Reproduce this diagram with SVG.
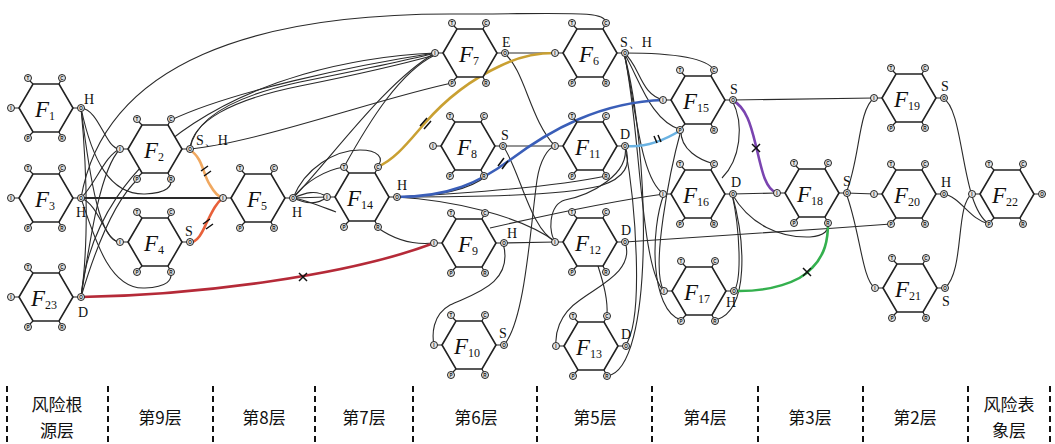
<svg xmlns="http://www.w3.org/2000/svg" xmlns:xlink="http://www.w3.org/1999/xlink" width="1055" height="444" viewBox="0 0 1055 444">
<style>
  .hex{fill:#fff;stroke:#222;stroke-width:1.6}
  .stub{stroke:#222;stroke-width:1.2}
  .port{fill:#e4e4e4;stroke:#222;stroke-width:1}
  .pl{font-family:"Liberation Sans",Arial,sans-serif;font-size:4.6px;font-weight:bold;fill:#111;text-anchor:middle}
  .fn{font-family:"Liberation Serif","Times New Roman",serif;font-style:italic;font-size:23px;fill:#111}
  .sub{font-family:"Liberation Serif","Times New Roman",serif;font-style:normal;font-size:12px}
  .tag{font-family:"Liberation Serif","Times New Roman",serif;font-size:14px;fill:#111}
  .ln{fill:none;stroke:#2a2a2a;stroke-width:1.1}
  .thick{stroke-width:1.9}
  .c{fill:none;stroke-width:2.6;stroke-linecap:round}
  .mk{stroke:#111;stroke-width:1.5;fill:none}
  .sep{stroke:#111;stroke-width:2;stroke-dasharray:6 4}
  .lay{font-family:"Noto Sans CJK SC","Noto Sans",sans-serif;font-size:17px;fill:#111;text-anchor:middle}
</style>
<defs>
  <g id="hx">
    <polygon class="hex" points="-27,0 -13,-24 13,-24 27,0 13,24 -13,24"/>
    <path class="stub" d="M-13,-24 L-17,-28 M13,-24 L15,-28 M-27,0 L-32,0 M27,0 L32,0 M-13,24 L-17,28 M13,24 L15,28"/>
    <circle class="port" cx="-18" cy="-30" r="3.5"/><text class="pl" x="-18" y="-28.3">T</text>
    <circle class="port" cx="16" cy="-30" r="3.5"/><text class="pl" x="16" y="-28.3">C</text>
    <circle class="port" cx="-35" cy="0" r="3.5"/><text class="pl" x="-35" y="1.7">I</text>
    <circle class="port" cx="35" cy="0" r="3.5"/><text class="pl" x="35" y="1.7">O</text>
    <circle class="port" cx="-18" cy="30" r="3.5"/><text class="pl" x="-18" y="31.7">P</text>
    <circle class="port" cx="16" cy="30" r="3.5"/><text class="pl" x="16" y="31.7">R</text>
  </g>
</defs>
<rect width="1055" height="444" fill="#fff"/>

<!-- connectors -->
<g id="connectors">
  <!-- root layer fan-out -->
  <path class="ln" d="M81,108 C100,110 105,149 120,149"/>
  <path class="ln" d="M81,108 C92,160 110,195 145,194 C168,193 172,186 171,179"/>
  <path class="ln" d="M81,108 C90,180 100,242 120,242"/>
  <path class="ln" d="M81,108 C88,180 88,250 81,297"/>
  <path class="ln" d="M81,198 C95,185 105,155 120,149"/>
  <path class="ln" d="M81,198 C100,205 105,242 120,242"/>
  <path class="ln" d="M81,198 C95,240 110,290 145,288 C168,287 172,280 171,272"/>
  <path class="ln thick" d="M81,198 L223,198"/>
  <path class="ln" d="M81,297 C90,240 100,170 120,149"/>
  <path class="ln" d="M81,297 C95,250 115,200 138,179"/>
  <path class="ln" d="M81,297 C95,150 250,62 435,53"/>
  <path class="ln" d="M81,198 C105,60 260,14 450,14 C570,14 606,10 606,23"/>
  <!-- layer 9 to layer 6 -->
  <path class="ln" d="M171,120 C230,92 350,66 435,53"/>
  <path class="ln" d="M190,149 C195,118 235,96 300,82 C360,70 410,60 435,53"/>
  <path class="ln" d="M190,149 C192,122 230,100 300,86 C360,74 410,62 435,55"/>
  <path class="ln" d="M190,149 C260,142 380,98 452,83"/>
  <!-- layer 8 -->
  <path class="ln" d="M293,198 C330,160 385,82 435,53"/>
  <path class="ln" d="M344,167 C370,120 400,72 435,55"/>
  <path class="ln" d="M293,198 L327,197"/>
  <path class="ln" d="M293,198 C305,193 316,189 327,197"/>
  <path class="ln" d="M293,198 C305,203 316,206 327,197"/>
  <path class="ln" d="M293,198 C306,200 320,206 336,212"/>
  <path class="ln" d="M293,198 C305,168 335,150 360,150 C378,150 385,158 377,167"/>
  <path class="ln" d="M293,198 C305,182 325,170 344,167"/>
  <!-- layer 7 -->
  <path class="ln" d="M378,228 C395,240 415,245 434,243"/>
  <path class="ln" d="M396,197 C450,200 520,215 556,242"/>
  <path class="ln" d="M396,197 C440,196 470,190 486,176"/>
  <path class="ln" d="M396,197 C470,193 560,186 606,176"/>
  <path class="ln" d="M396,197 C470,197 560,196 600,186 C625,178 632,165 625,146"/>
  <!-- layer 6 -->
  <path class="ln" d="M504,53 L555,53"/>
  <path class="ln" d="M504,53 C525,70 530,120 555,146"/>
  <path class="ln" d="M503,146 L555,146"/>
  <path class="ln" d="M503,146 C520,170 530,230 556,242"/>
  <path class="ln" d="M503,243 L556,242"/>
  <path class="ln" d="M490,228 C560,212 620,200 664,194"/>
  <path class="ln" d="M503,243 C515,285 470,295 450,305 C432,315 432,335 434,345"/>
  <path class="ln" d="M504,345 C525,320 530,230 537,180 C540,160 548,148 555,146"/>
  <!-- layer 5 -->
  <path class="ln" d="M625,146 C630,175 590,195 565,200 C548,205 548,235 556,242"/>
  <path class="ln" d="M625,242 C645,241 780,232 891,224"/>
  <path class="ln" d="M625,242 C635,270 600,285 580,300 C558,315 555,335 556,346"/>
  <path class="ln" d="M598,266 C604,285 608,300 607,316"/>
  <path class="ln" d="M625,146 C635,200 645,320 625,346"/>
  <path class="ln" d="M624,53 C650,150 655,370 607,376"/>
  <path class="ln" d="M624,53 C660,53 705,55 714,70"/>
  <path class="ln" d="M624,53 C640,65 640,95 664,100"/>
  <path class="ln" d="M624,53 C640,80 650,120 681,130"/>
  <path class="ln" d="M624,53 C635,100 640,180 664,194"/>
  <path class="ln" d="M624,53 C640,120 640,270 664,291"/>
  <!-- layer 4 -->
  <path class="ln" d="M732,100 L874,98"/>
  <path class="ln" d="M732,100 C745,125 740,160 722,178"/>
  <path class="ln" d="M681,130 C680,150 700,160 714,164"/>
  <path class="ln" d="M681,130 C670,170 650,270 664,291"/>
  <path class="ln" d="M664,194 C650,230 650,310 681,320"/>
  <path class="ln" d="M732,194 L777,193"/>
  <path class="ln" d="M732,194 C750,225 780,238 810,237 C825,236 829,230 828,223"/>
  <path class="ln" d="M732,194 C740,230 742,280 734,291"/>
  <path class="ln" d="M732,194 C745,240 750,310 716,320"/>
  <!-- layer 3 to surface -->
  <path class="ln" d="M846,193 L875,194"/>
  <path class="ln" d="M846,193 C860,160 858,110 874,98"/>
  <path class="ln" d="M846,193 C860,230 862,280 875,288"/>
  <path class="ln" d="M943,98 C965,110 960,205 989,224"/>
  <path class="ln" d="M943,194 C960,196 970,220 989,224"/>
  <path class="ln" d="M945,288 C965,270 955,205 972,194"/>

  <!-- highlighted paths -->
  <path class="c" stroke="#f0a860" d="M190,150 C203,158 203,175 210,185 C214,192 218,197 223,198"/>
  <path class="c" stroke="#e8603a" d="M190,243 C200,240 203,230 207,222 C212,212 216,203 223,198"/>
  <path class="c" stroke="#b52a38" d="M81,297 C200,295 350,275 434,243"/>
  <path class="c" stroke="#c9a032" d="M377,167 C395,160 410,140 425,123 C445,100 470,80 500,66 C520,56 540,53 555,53"/>
  <path class="c" stroke="#3a5eb8" d="M396,197 C450,197 480,182 510,160 C550,130 600,102 664,100"/>
  <path class="c" stroke="#6ab2e2" d="M625,146 C645,148 665,140 681,130"/>
  <path class="c" stroke="#7a44b0" d="M732,100 C748,108 752,130 757,150 C762,172 766,190 777,193"/>
  <path class="c" stroke="#34b04e" d="M734,291 C770,292 800,282 812,268 C825,255 828,240 828,223"/>

  <!-- break marks -->
  <path class="mk" d="M201,171 L208,166 M204,176 L211,171"/>
  <path class="mk" d="M203,224 L210,219 M206,229 L213,224"/>
  <path class="mk" d="M420,126 L427,118 M424,129 L431,121"/>
  <path class="mk" d="M498,166 L504,158 M502,169 L508,161"/>
  <path class="mk" d="M654,136 L657,143 M658,135 L661,142"/>
  <path class="mk" d="M299,273 L307,281 M307,273 L299,281"/>
  <path class="mk" d="M752,144 L760,152 M760,144 L752,152"/>
  <path class="mk" d="M803,268 L811,276 M811,268 L803,276"/>
</g>

<!-- nodes -->
<g id="F1" transform="translate(46,108)"><use href="#hx"/><text class="fn" x="-11" y="9">F<tspan class="sub" dy="3">1</tspan></text><text class="tag" x="38" y="-4">H</text></g>
<g id="F3" transform="translate(46,198)"><use href="#hx"/><text class="fn" x="-11" y="9">F<tspan class="sub" dy="3">3</tspan></text><text class="tag" x="30" y="19">H</text></g>
<g id="F23" transform="translate(46,297)"><use href="#hx"/><text class="fn" x="-15" y="9">F<tspan class="sub" dy="3">23</tspan></text><text class="tag" x="32" y="20">D</text></g>
<g id="F2" transform="translate(155,149)"><use href="#hx"/><text class="fn" x="-11" y="9">F<tspan class="sub" dy="3">2</tspan></text><text class="tag" x="41" y="-4">S、H</text></g>
<g id="F4" transform="translate(155,242)"><use href="#hx"/><text class="fn" x="-11" y="9">F<tspan class="sub" dy="3">4</tspan></text><text class="tag" x="30" y="-6">S</text></g>
<g id="F5" transform="translate(258,198)"><use href="#hx"/><text class="fn" x="-11" y="9">F<tspan class="sub" dy="3">5</tspan></text><text class="tag" x="34" y="19">H</text></g>
<g id="F14" transform="translate(362,197)"><use href="#hx"/><text class="fn" x="-15" y="9">F<tspan class="sub" dy="3">14</tspan></text><text class="tag" x="35" y="-7">H</text></g>
<g id="F7" transform="translate(470,53)"><use href="#hx"/><text class="fn" x="-11" y="9">F<tspan class="sub" dy="3">7</tspan></text><text class="tag" x="32" y="-6">E</text></g>
<g id="F8" transform="translate(468,146)"><use href="#hx"/><text class="fn" x="-11" y="9">F<tspan class="sub" dy="3">8</tspan></text><text class="tag" x="33" y="-6">S</text></g>
<g id="F9" transform="translate(469,243)"><use href="#hx"/><text class="fn" x="-11" y="9">F<tspan class="sub" dy="3">9</tspan></text><text class="tag" x="38" y="-5">H</text></g>
<g id="F10" transform="translate(469,345)"><use href="#hx"/><text class="fn" x="-15" y="9">F<tspan class="sub" dy="3">10</tspan></text><text class="tag" x="30" y="-7">S</text></g>
<g id="F6" transform="translate(590,53)"><use href="#hx"/><text class="fn" x="-11" y="9">F<tspan class="sub" dy="3">6</tspan></text><text class="tag" x="30" y="-6">S、H</text></g>
<g id="F11" transform="translate(590,146)"><use href="#hx"/><text class="fn" x="-15" y="9">F<tspan class="sub" dy="3">11</tspan></text><text class="tag" x="30" y="-7">D</text></g>
<g id="F12" transform="translate(590,242)"><use href="#hx"/><text class="fn" x="-15" y="9">F<tspan class="sub" dy="3">12</tspan></text><text class="tag" x="31" y="-7">D</text></g>
<g id="F13" transform="translate(591,346)"><use href="#hx"/><text class="fn" x="-15" y="9">F<tspan class="sub" dy="3">13</tspan></text><text class="tag" x="30" y="-7">D</text></g>
<g id="F15" transform="translate(698,100)"><use href="#hx"/><text class="fn" x="-15" y="9">F<tspan class="sub" dy="3">15</tspan></text><text class="tag" x="32" y="-6">S</text></g>
<g id="F16" transform="translate(698,194)"><use href="#hx"/><text class="fn" x="-15" y="9">F<tspan class="sub" dy="3">16</tspan></text><text class="tag" x="33" y="-7">D</text></g>
<g id="F17" transform="translate(699,291)"><use href="#hx"/><text class="fn" x="-15" y="9">F<tspan class="sub" dy="3">17</tspan></text><text class="tag" x="27" y="16">H</text></g>
<g id="F18" transform="translate(812,193)"><use href="#hx"/><text class="fn" x="-15" y="9">F<tspan class="sub" dy="3">18</tspan></text><text class="tag" x="31" y="-7">S</text></g>
<g id="F19" transform="translate(909,98)"><use href="#hx"/><text class="fn" x="-15" y="9">F<tspan class="sub" dy="3">19</tspan></text><text class="tag" x="32" y="-7">S</text></g>
<g id="F20" transform="translate(909,194)"><use href="#hx"/><text class="fn" x="-15" y="9">F<tspan class="sub" dy="3">20</tspan></text><text class="tag" x="32" y="-7">H</text></g>
<g id="F21" transform="translate(910,288)"><use href="#hx"/><text class="fn" x="-15" y="9">F<tspan class="sub" dy="3">21</tspan></text><text class="tag" x="32" y="18">S</text></g>
<g id="F22" transform="translate(1007,194)"><use href="#hx"/><text class="fn" x="-15" y="9">F<tspan class="sub" dy="3">22</tspan></text></g>

<!-- layer scale -->
<g id="layers">
  <line class="sep" x1="7" y1="386" x2="7" y2="444"/>
  <line class="sep" x1="108" y1="386" x2="108" y2="444"/>
  <line class="sep" x1="213" y1="386" x2="213" y2="444"/>
  <line class="sep" x1="315" y1="386" x2="315" y2="444"/>
  <line class="sep" x1="413" y1="386" x2="413" y2="444"/>
  <line class="sep" x1="537" y1="386" x2="537" y2="444"/>
  <line class="sep" x1="652" y1="386" x2="652" y2="444"/>
  <line class="sep" x1="758" y1="386" x2="758" y2="444"/>
  <line class="sep" x1="863" y1="386" x2="863" y2="444"/>
  <line class="sep" x1="968" y1="386" x2="968" y2="444"/>
  <line class="sep" x1="1050" y1="386" x2="1050" y2="444"/>
  <text class="lay" x="57" y="411">风险根</text>
  <text class="lay" x="57" y="437">源层</text>
  <text class="lay" x="160" y="424">第9层</text>
  <text class="lay" x="264" y="424">第8层</text>
  <text class="lay" x="364" y="424">第7层</text>
  <text class="lay" x="476" y="424">第6层</text>
  <text class="lay" x="595" y="424">第5层</text>
  <text class="lay" x="705" y="424">第4层</text>
  <text class="lay" x="810" y="424">第3层</text>
  <text class="lay" x="915" y="424">第2层</text>
  <text class="lay" x="1009" y="411">风险表</text>
  <text class="lay" x="1009" y="437">象层</text>
</g>
</svg>
